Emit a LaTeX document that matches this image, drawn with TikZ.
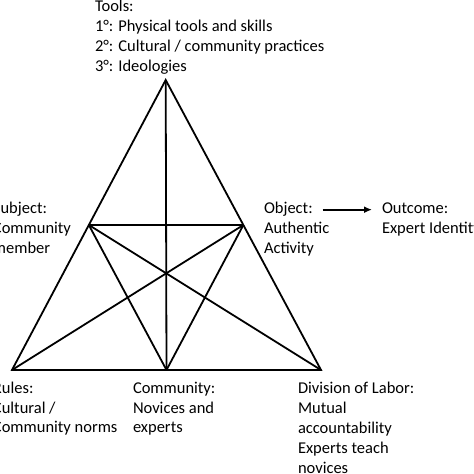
\documentclass[tikz,border=0pt]{standalone}
\usepackage{fontspec}
\setmainfont{Carlito}
\usetikzlibrary{arrows.meta}
\usetikzlibrary{calc}
\usetikzlibrary{positioning}

\tikzset{
	side/.style={line width=1.8pt, line join=miter},
	lbl/.style={inner sep=0pt, outer sep=0pt, anchor=base west, align=left, font=\fontsize{16.5}{20}\selectfont},
}

\begin{document}
\begin{tikzpicture}[x=1pt, y=1pt]
	\useasboundingbox (0,0) rectangle (474,474);

	\coordinate (v_top) at (165.7,394);
	\coordinate (v_rul) at (12,104);
	\coordinate (v_div) at (321,104);
	\coordinate (v_com) at ($(v_rul)!0.5!(v_div)$);
	\coordinate (v_sub) at ($(v_top)!0.5!(v_rul)$);
	\coordinate (v_obj) at ($(v_top)!0.5!(v_div)$);

	\draw[side] (v_top) -- (v_rul) -- (v_div) -- cycle;
	\draw[side] (v_sub) -- (v_obj);
	\draw[side] (v_top) -- (v_com);
	\draw[side] (v_sub) -- (v_com);
	\draw[side] (v_obj) -- (v_com);
	\draw[side] (v_sub) -- (v_div);
	\draw[side] (v_obj) -- (v_rul);

	\node[lbl] (l_tools) at (95,402) {Tools:\\1°: Physical tools and skills\\2°: Cultural / community practices\\3°: Ideologies};

	\node[lbl] (l_sub) at (-7,220) {Subject:\\Community\\member};
	\node[lbl] (l_obj) at (264,260) {Object:};
	\node[lbl] (l_objtxt) at (264,220) {Authentic\\Activity};
	\node[lbl] (l_out) at (382,260) {Outcome:};
	\node[lbl] (l_outtxt) at (382,240) {Expert Identity};

	\draw[side, -{Latex[length=8pt, width=7pt]}] ($(l_obj.east)+(10pt,0)$) -- ($(l_obj.east -| l_out.west)+(-10pt,0)$);

	\node[lbl] (l_rul) at (-7,41) {Rules:\\Cultural /\\Community norms};
	\node[lbl] (l_com) at (133,41) {Community:\\Novices and\\experts};
	\node[lbl] (l_div) at (298,1) {Division of Labor:\\Mutual\\accountability\\Experts teach\\novices};
\end{tikzpicture}
\end{document}
